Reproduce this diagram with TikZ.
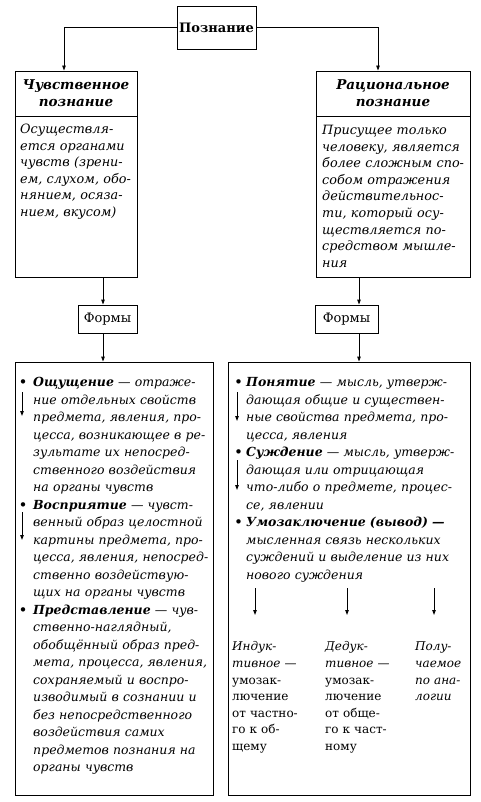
\documentclass[tikz,border=0pt]{standalone}
\usepackage{fontspec}
\setmainfont{DejaVu Serif}
\usetikzlibrary{arrows.meta}
\setlength\parindent{0pt}
\newcommand\jl[1]{\makebox[\hsize][s]{#1}}
\newcommand\bul[1]{\leavevmode\llap{\textbf{•}\hspace{#1pt}}}
\newcommand\myTitleFont{\fontsize{13.5}{17}\selectfont\bfseries\itshape}
\newcommand\myTopFont{\fontsize{12.8}{16.6}\selectfont\itshape}
\newcommand\myListFont{\fontsize{12.5}{17.5}\selectfont\itshape}
\newcommand\myColFont{\fontsize{12}{16.6}\selectfont}
\newcommand\myFormFont{\fontsize{13}{15}\selectfont}
\begin{document}
\begin{tikzpicture}[x=1pt,y=-1pt,
  box/.style={draw, line width=0.9pt, inner sep=0pt},
  arr/.style={line width=0.9pt, -{Triangle[length=5pt,width=3.5pt]}},
  txt/.style={inner sep=0pt, anchor=base west, align=left}]
\useasboundingbox (0,0) rectangle (480,802);
% top
\node[box, minimum width=79, minimum height=43, font=\fontsize{13}{15}\selectfont\bfseries] (root) at (216.5,27.5) {Познание};
% left column
\node[box, minimum width=122, minimum height=45, align=center, font=\myTitleFont] (lt) at (76,93.5) {Чувственное\\познание};
\node[box, minimum width=122, minimum height=161] (lb) at (76,196.5) {};
\node[txt, text width=115, font=\myTopFont] (ltx) at (20,133.5) {Осуществля-\\ется органами\\чувств (зрени-\\ем, слухом, обо-\\нянием, осяза-\\нием, вкусом)};
% right column
\node[box, minimum width=154, minimum height=45, align=center, font=\myTitleFont] (rt) at (393,93.5) {Рациональное\\познание};
\node[box, minimum width=154, minimum height=161] (rb) at (393,196.5) {};
\node[txt, text width=145, font=\myTopFont] (rtx) at (322,134.5) {Присущее только\\человеку, является\\более сложным спо-\\собом отражения\\действительнос-\\ти, который осу-\\ществляется по-\\средством мышле-\\ния};
% forms
\node[box, minimum width=59, minimum height=28, font=\myFormFont] (f1) at (107.5,319) {Формы};
\node[box, minimum width=63, minimum height=28, font=\myFormFont] (f2) at (346.5,319) {Формы};
% bottom boxes
\node[box, minimum width=198, minimum height=433] (bl) at (114,578.5) {};
\node[box, minimum width=242, minimum height=433] (br) at (349,578.5) {};
\node[txt, text width=175, font=\myListFont] (lst1) at (33,386.8) {%
\bul{6}\jl{\textbf{Ощущение} — отраже-}\\
\jl{ние отдельных свойств}\\
\jl{предмета, явления, про-}\\
\jl{цесса, возникающее в ре-}\\
\jl{зультате их непосред-}\\
\jl{ственного воздействия}\\
на органы чувств\\
\bul{6}\jl{\textbf{Восприятие} — чувст-}\\
\jl{венный образ целостной}\\
\jl{картины предмета, про-}\\
\jl{цесса, явления, непосред-}\\
\jl{ственно воздействую-}\\
щих на органы чувств\\
\bul{6}\jl{\textbf{Представление} — чув-}\\
ственно-наглядный,\\
\jl{обобщённый образ пред-}\\
\jl{мета, процесса, явления,}\\
\jl{сохраняемый и воспро-}\\
\jl{изводимый в сознании и}\\
\jl{без непосредственного}\\
воздействия самих\\
\jl{предметов познания на}\\
органы чувств};
\node[txt, text width=220, font=\myListFont] (lst2) at (246,386.8) {%
\bul{3.5}\jl{\textbf{Понятие} — мысль, утверж-}\\
\jl{дающая общие и существен-}\\
\jl{ные свойства предмета, про-}\\
цесса, явления\\
\bul{3.5}\jl{\textbf{Суждение} — мысль, утверж-}\\
\jl{дающая или отрицающая}\\
\jl{что-либо о предмете, процес-}\\
се, явлении\\
\bul{3.5}\jl{\textbf{Умозаключение (вывод) —}}\\
\jl{мысленная связь нескольких}\\
\jl{суждений и выделение из них}\\
нового суждения};
\node[txt, text width=85, font=\myColFont] (k1) at (232,650.8) {\textit{Индук-}\\\textit{тивное —}\\умозак-\\лючение\\от частно-\\го к об-\\щему};
\node[txt, text width=85, font=\myColFont] (k2) at (325,650.8) {\textit{Дедук-}\\\textit{тивное —}\\умозак-\\лючение\\от обще-\\го к част-\\ному};
\node[txt, text width=55, font=\myColFont\itshape] (k3) at (415,650.8) {Полу-\\чаемое\\по ана-\\логии};
% connectors
\coordinate (cL) at (64,0);
\coordinate (cR) at (378,0);
\coordinate (c1) at (103,0);
\coordinate (c2) at (359,0);
\draw[arr] (root.west) -| (lt.north -| cL);
\draw[arr] (root.east) -| (rt.north -| cR);
\draw[arr] (lb.south -| c1) -- (f1.north -| c1);
\draw[arr] (f1.south -| c1) -- (bl.north -| c1);
\draw[arr] (rb.south -| c2) -- (f2.north -| c2);
\draw[arr] (f2.south -| c2) -- (br.north -| c2);
% bullet arrows
\coordinate (p1a) at (22,392);  \coordinate (p1b) at (22,416);
\coordinate (p2a) at (22,512);  \coordinate (p2b) at (22,540);
\coordinate (q1a) at (237,392); \coordinate (q1b) at (237,421);
\coordinate (q2a) at (237,460); \coordinate (q2b) at (237,490);
\draw[arr] (p1a) -- (p1b);
\draw[arr] (p2a) -- (p2b);
\draw[arr] (q1a) -- (q1b);
\draw[arr] (q2a) -- (q2b);
% conclusion arrows
\coordinate (u1a) at (255,588); \coordinate (u1b) at (255,615);
\coordinate (u2a) at (347,588); \coordinate (u2b) at (347,615);
\coordinate (u3a) at (434,588); \coordinate (u3b) at (434,615);
\draw[arr] (u1a) -- (u1b);
\draw[arr] (u2a) -- (u2b);
\draw[arr] (u3a) -- (u3b);
\end{tikzpicture}
\end{document}
